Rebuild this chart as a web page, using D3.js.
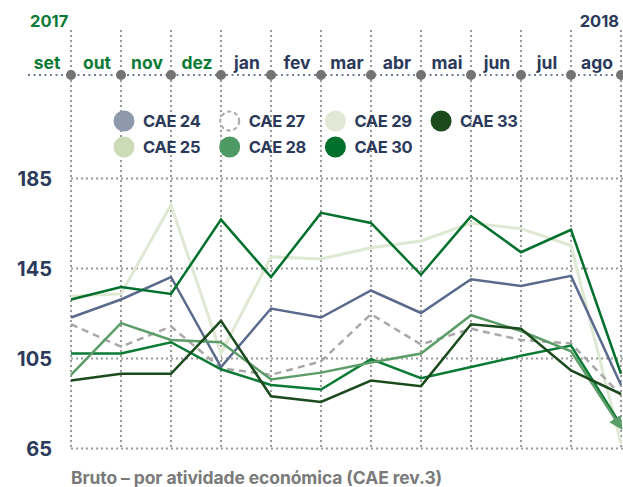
<!DOCTYPE html>
<html>
<head>
<meta charset="utf-8">
<script src="https://cdn.jsdelivr.net/npm/d3@7"></script>
<style>
  body { margin: 0; background: #fff; }
  text { font-family: Inter, "Noto Sans", sans-serif; font-weight: 700; }
</style>
</head>
<body>
<script>
var months = ['set', 'out', 'nov', 'dez', 'jan', 'fev', 'mar', 'abr', 'mai', 'jun', 'jul', 'ago'];
var years = ['2017', '2018'];
var yTicks = [65, 105, 145, 185];

var cae24 = [123, 131, 141, 101, 127, 123, 135, 125, 140, 137, 141.5, 93];
var cae25 = [107, 107, 112, 100, 93, 91, 104.5, 96, 101, 106, 110.5, 75];
var cae27 = [120, 110, 119, 100.5, 97.5, 103.5, 124.5, 111, 118, 113, 111.5, 88.5];
var cae28 = [97.5, 120.5, 113, 112, 95.5, 98.5, 103, 107, 124, 117, 108, 74];
var cae29 = [132.5, 133.5, 173, 107, 150, 149, 154, 157, 165, 162.5, 155, 67];
var cae30 = [131, 136.5, 133.5, 166.5, 141, 169.5, 165, 142, 168, 152, 162, 98];
var cae33 = [95, 98, 98, 121.5, 88, 85.5, 95, 92.5, 120, 118, 99.5, 89];

var navy = '#2b3a5a';
var green = '#0b7a35';
var grid = '#9a9a9a';

// draw order (back to front)
var series = [
  {name: 'CAE 29', values: cae29, line: '#dfe8d2', w: 3},
  {name: 'CAE 27', values: cae27, line: '#a8a8a8', w: 2.5, dash: '7,5'},
  {name: 'CAE 24', values: cae24, line: '#5a6a8c', w: 2.5},
  {name: 'CAE 25', values: cae25, line: '#0b7a35', w: 2.5},
  {name: 'CAE 28', values: cae28, line: '#5c9c68', w: 2.5, arrow: true},
  {name: 'CAE 33', values: cae33, line: '#1b4a1d', w: 2.5},
  {name: 'CAE 30', values: cae30, line: '#00702c', w: 2.5}
];

var legend = [
  {name: 'CAE 24', fill: '#8e99ad'},
  {name: 'CAE 27', fill: '#fff', dashed: true},
  {name: 'CAE 29', fill: '#e1e9d6'},
  {name: 'CAE 33', fill: '#1b4a1d'},
  {name: 'CAE 25', fill: '#cbdbb5'},
  {name: 'CAE 28', fill: '#4e9a65'},
  {name: 'CAE 30', fill: '#00702c'}
];

var width = 623, height = 487;
var svg = d3.select('body').append('svg').attr('width', width).attr('height', height);

var x = d3.scalePoint().domain(months).range([71, 621]);
var y = d3.scaleLinear().domain([65, 185]).range([448, 178]);

svg.append('defs').append('marker')
  .attr('id', 'arrow')
  .attr('viewBox', '0 0 10 10')
  .attr('refX', 8).attr('refY', 5)
  .attr('markerWidth', 5.5).attr('markerHeight', 5.5)
  .attr('markerUnits', 'strokeWidth')
  .attr('orient', 'auto')
  .append('path').attr('d', 'M0,0L10,5L0,10z').attr('fill', '#5c9c68');

// vertical dotted lines
svg.append('g').selectAll('line')
  .data(months)
  .enter()
  .append('line')
  .attr('x1', d => x(d)).attr('x2', d => x(d))
  .attr('y1', 30).attr('y2', 449)
  .attr('stroke', grid).attr('stroke-width', 2)
  .attr('stroke-dasharray', '2,3');

// horizontal gridlines + y labels
var yAxis = svg.append('g')
  .attr('transform', 'translate(71,0)')
  .call(d3.axisLeft(y).tickValues(yTicks).tickSize(-552).tickFormat(d3.format('d')));
yAxis.select('.domain').remove();
yAxis.selectAll('.tick line')
  .attr('stroke', grid).attr('stroke-width', 2).attr('stroke-dasharray', '2,3');
yAxis.selectAll('.tick text')
  .attr('x', -19).attr('dy', '0.36em')
  .attr('fill', navy).attr('font-size', 20)
  .style('font-family', 'Inter, sans-serif').style('font-weight', 700);

// month axis on top
svg.append('line')
  .attr('x1', 28).attr('x2', 623).attr('y1', 75).attr('y2', 75)
  .attr('stroke', '#6f7c97').attr('stroke-width', 2).attr('stroke-dasharray', '2,3.5');
svg.append('g').selectAll('circle')
  .data(months)
  .enter()
  .append('circle')
  .attr('cx', d => x(d)).attr('cy', 75).attr('r', 5)
  .attr('fill', '#737373');
svg.append('g').selectAll('text')
  .data(months)
  .enter()
  .append('text')
  .attr('x', d => x(d) - 24).attr('y', 69)
  .attr('text-anchor', 'middle')
  .attr('font-size', 17.5)
  .attr('fill', (d, i) => i < 4 ? green : navy)
  .text(d => d);
svg.append('text').attr('x', 30).attr('y', 27).attr('font-size', 16.5)
  .attr('fill', green).text(years[0]);
svg.append('text').attr('x', 619).attr('y', 27).attr('font-size', 16.5)
  .attr('text-anchor', 'end').attr('fill', navy).text(years[1]);

// legend
var lg = svg.append('g').selectAll('g')
  .data(legend)
  .enter()
  .append('g')
  .attr('transform', (d, i) => 'translate(' + (124 + (i % 4) * 105.7) + ',' + (i < 4 ? 121 : 147) + ')');
lg.append('circle')
  .attr('r', d => d.dashed ? 9.5 : 10.5)
  .attr('fill', d => d.fill)
  .attr('stroke', d => d.dashed ? '#a8a8a8' : 'none')
  .attr('stroke-width', 2)
  .attr('stroke-dasharray', d => d.dashed ? '4,3' : null);
lg.append('text')
  .attr('x', 19).attr('dy', '0.36em')
  .attr('font-size', 16.5).attr('letter-spacing', '-0.3')
  .attr('fill', navy)
  .text(d => d.name);

// lines
var line = d3.line()
  .x((d, i) => x(months[i]))
  .y(d => y(d));
svg.append('g').selectAll('path')
  .data(series)
  .enter()
  .append('path')
  .attr('d', d => line(d.values))
  .attr('fill', 'none')
  .attr('stroke', d => d.line)
  .attr('stroke-width', d => d.w)
  .attr('stroke-dasharray', d => d.dash || null)
  .attr('marker-end', d => d.arrow ? 'url(#arrow)' : null);

// caption
svg.append('text').attr('x', 71).attr('y', 484)
  .attr('font-size', 17.5).attr('letter-spacing', '-0.1')
  .attr('fill', '#7a7a7a')
  .text('Bruto – por atividade económica (CAE rev.3)');
</script>
</body>
</html>
